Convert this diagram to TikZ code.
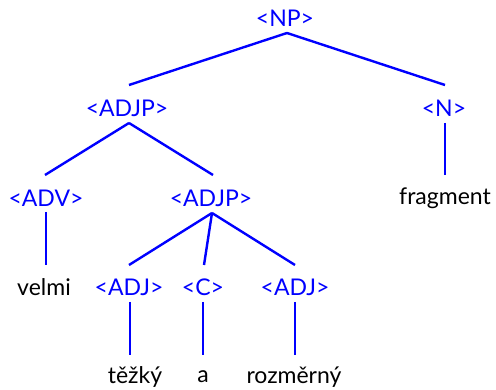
\documentclass[tikz,border=0pt]{standalone}
\usepackage{fontspec}
\setmainfont{Lato}
\usetikzlibrary{calc}
\begin{document}
\begin{tikzpicture}[x=1pt,y=-1pt,
  cat/.style={text=blue, font=\fontsize{23}{26}\selectfont, inner sep=0pt, anchor=center},
  word/.style={text=black, font=\fontsize{23}{26}\selectfont, inner sep=0pt, anchor=center},
  edge/.style={draw=blue, line width=2.4pt}]
\useasboundingbox (0,0) rectangle (496,390);
\node[cat] (np) at (285,18) {<NP>};
\node[cat] (adjp) at (127,108) {<ADJP>};
\node[cat] (n) at (444,108) {<N>};
\node[cat] (adv) at (46,198) {<ADV>};
\node[cat] (adjp2) at (211,198) {<ADJP>};
\node[word] (frag) at (445,198) {fragment};
\node[word] (velmi) at (44,287) {velmi};
\node[cat] (adj1) at (129,287) {<ADJ>};
\node[cat] (c) at (203,287) {<C>};
\node[cat] (adj2) at (295,287) {<ADJ>};
\node[word] (tezky) at (135,377) {těžký};
\node[word] (a) at (203,377) {a};
\node[word] (rozm) at (294,377) {rozměrný};
\draw[edge] ($(np.center)+(2,15)$) -- ($(adjp.center)+(2,-23)$);
\draw[edge] ($(np.center)+(2,15)$) -- ($(n.center)+(1,-23)$);
\draw[edge] ($(adjp.center)+(2,15)$) -- ($(adv.center)+(-1,-23)$);
\draw[edge] ($(adjp.center)+(2,15)$) -- ($(adjp2.center)+(2,-23)$);
\draw[edge] ($(n.center)+(1,15)$) -- ($(frag.center)+(0,-23)$);
\draw[edge] ($(adv.center)+(0,14)$) -- ($(velmi.center)+(2,-22)$);
\draw[edge] ($(adjp2.center)+(1,15)$) -- ($(adj1.center)+(0,-22)$);
\draw[edge] ($(adjp2.center)+(1,15)$) -- ($(c.center)+(1,-22)$);
\draw[edge] ($(adjp2.center)+(1,15)$) -- ($(adj2.center)+(0,-22)$);
\draw[edge] ($(adj1.center)+(1,15)$) -- ($(adj1.center|-tezky.center)+(1,-22)$);
\draw[edge] ($(c.center)+(0,15)$) -- ($(a.center)+(0,-22)$);
\draw[edge] ($(adj2.center)+(0,15)$) -- ($(adj2.center|-rozm.center)+(0,-22)$);
\end{tikzpicture}
\end{document}
